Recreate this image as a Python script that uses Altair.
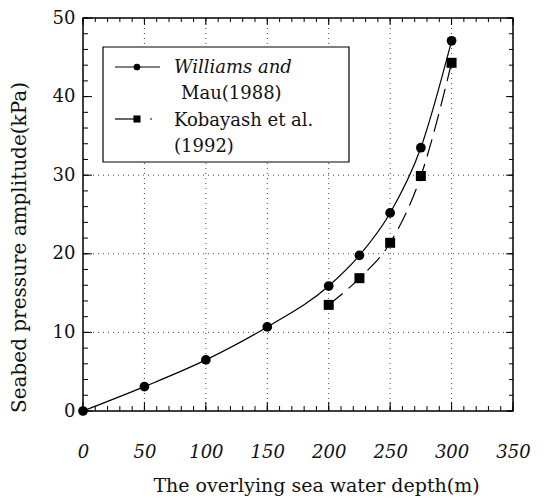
import altair as alt
import pandas as pd

# ---- data ----
depth_w = [0, 50, 100, 150, 200, 225, 250, 275, 300]
press_w = [0.0, 3.1, 6.5, 10.7, 15.9, 19.8, 25.2, 33.5, 47.1]
depth_k = [200, 225, 250, 275, 300]
press_k = [13.5, 16.9, 21.4, 29.9, 44.3]

x_major = [0, 50, 100, 150, 200, 250, 300, 350]
x_grid = [50, 100, 150, 200, 250, 300]
x_minor = list(range(0, 351, 10))
y_major = [0, 10, 20, 30, 40, 50]
y_grid = [10, 20, 30]
y_minor = list(range(0, 51, 2))

x_title = "The overlying sea water depth(m)"
y_title = "Seabed pressure amplitude(kPa)"
leg_w = ["Williams and", "Mau(1988)"]
leg_k = ["Kobayash et al.", "(1992)"]

W, H = 430, 393
FONT = "DejaVu Serif"

dw = pd.DataFrame({"depth": depth_w, "p": press_w})
dk = pd.DataFrame({"depth": depth_k, "p": press_k})

xs = alt.Scale(domain=[0, 350], nice=False, zero=False)
ys = alt.Scale(domain=[0, 50], nice=False, zero=False)

x_axis = alt.Axis(values=x_major, ticks=False, domain=False, grid=False,
                  labelFont=FONT, labelFontSize=18, labelFontStyle="italic",
                  labelColor="#111", labelPadding=32, labelFlush=False,
                  title=x_title, titleFont=FONT, titleFontSize=19,
                  titleFontWeight="normal", titleColor="#111", titlePadding=15,
                  titleX=233)
y_axis = alt.Axis(values=y_major, ticks=False, domain=False, grid=False,
                  labelFont=FONT, labelFontSize=18, labelColor="#111",
                  labelPadding=8, labelFlush=False,
                  title=y_title, titleFont=FONT, titleFontSize=20,
                  titleFontWeight="normal", titleColor="#111", titlePadding=23,
                  titleY=229)


def X(f):
    return alt.X(f"{f}:Q", scale=xs, axis=x_axis, title=x_title)


def Y(f):
    return alt.Y(f"{f}:Q", scale=ys, axis=y_axis, title=y_title)


line_w = alt.Chart(dw).mark_line(color="black", strokeWidth=1.2,
                                 interpolate="monotone").encode(
    x=X("depth"), y=Y("p"))
pts_w = alt.Chart(dw).mark_point(shape="circle", filled=True, color="black",
                                 size=95, opacity=1).encode(
    x=X("depth"), y=Y("p"))
line_k = alt.Chart(dk).mark_line(color="black", strokeWidth=1.2,
                                 interpolate="monotone",
                                 strokeDash=[18, 8]).encode(
    x=X("depth"), y=Y("p"))
pts_k = alt.Chart(dk).mark_point(shape="square", filled=True, color="black",
                                 size=100, opacity=1).encode(
    x=X("depth"), y=Y("p"))

# ---- grid lines and inward ticks, placed through the scales ----
gx = pd.DataFrame({"v": x_grid})
gy = pd.DataFrame({"v": y_grid})
tx_min = pd.DataFrame({"v": x_minor})
tx_maj = pd.DataFrame({"v": x_major})
ty_min = pd.DataFrame({"v": y_minor})
ty_maj = pd.DataFrame({"v": y_major})

grid_x = alt.Chart(gx).mark_rule(color="#444", strokeWidth=1,
                                 strokeDash=[1, 4]).encode(
    x=X("v"), y=alt.value(0), y2=alt.value(H))
grid_y = alt.Chart(gy).mark_rule(color="#444", strokeWidth=1,
                                 strokeDash=[1, 4]).encode(
    y=Y("v"), x=alt.value(0), x2=alt.value(W))


def xticks(df, y0, y1):
    return alt.Chart(df).mark_rule(color="black", strokeWidth=1).encode(
        x=X("v"), y=alt.value(y0), y2=alt.value(y1))


def yticks(df, x0, x1):
    return alt.Chart(df).mark_rule(color="black", strokeWidth=1).encode(
        y=Y("v"), x=alt.value(x0), x2=alt.value(x1))


ticks = [
    xticks(tx_min, H - 5, H), xticks(tx_maj, H - 9, H),
    xticks(tx_min, 0, 4), xticks(tx_maj, 0, 7),
    yticks(ty_min, 0, 5), yticks(ty_maj, 0, 9),
    yticks(ty_min, W - 4, W), yticks(ty_maj, W - 7, W),
]

# ---- hand-drawn legend (pixel positions inside the plot area) ----
one = alt.Data(values=[{"a": 1}])
lx0, ly0, lx1, ly1 = 20, 29, 266, 144
leg_box = alt.Chart(one).mark_rect(fill="white", stroke="black",
                                   strokeWidth=1.2).encode(
    x=alt.value(lx0), x2=alt.value(lx1), y=alt.value(ly0), y2=alt.value(ly1))
leg_line_w = alt.Chart(one).mark_rule(color="black", strokeWidth=1.2).encode(
    x=alt.value(32), x2=alt.value(77), y=alt.value(49))
leg_pt_w = alt.Chart(one).mark_point(shape="circle", filled=True,
                                     color="black", size=45, opacity=1).encode(
    x=alt.value(54), y=alt.value(49))
leg_line_k = alt.Chart(one).mark_rule(color="black", strokeWidth=1.2).encode(
    x=alt.value(32), x2=alt.value(54), y=alt.value(101))
leg_dot_k = alt.Chart(one).mark_rule(color="black", strokeWidth=1.2).encode(
    x=alt.value(67), x2=alt.value(69), y=alt.value(101))
leg_pt_k = alt.Chart(one).mark_point(shape="square", filled=True,
                                     color="black", size=50, opacity=1).encode(
    x=alt.value(54), y=alt.value(101))


def leg_text(txt, x, y, style="normal"):
    return alt.Chart(one).mark_text(align="left", baseline="alphabetic",
                                    font=FONT, fontSize=18, fontStyle=style,
                                    color="#111").encode(
        x=alt.value(x), y=alt.value(y), text=alt.value(txt))


legend = [leg_box, leg_line_w, leg_pt_w, leg_line_k, leg_dot_k, leg_pt_k,
          leg_text(leg_w[0], 91, 55, "italic"),
          leg_text(leg_w[1], 98, 81),
          leg_text(leg_k[0], 91, 108),
          leg_text(leg_k[1], 91, 134)]

chart = alt.layer(line_w, grid_x, grid_y, *ticks, line_k, pts_w, pts_k,
                  *legend).properties(
    width=W, height=H,
    autosize=alt.AutoSizeParams(type="none"),
    padding={"left": 75, "top": 10, "right": 30, "bottom": 88},
).configure_view(stroke="black", strokeWidth=1.5)

chart.save("out.html", embed_options={"renderer": "svg", "actions": False})
